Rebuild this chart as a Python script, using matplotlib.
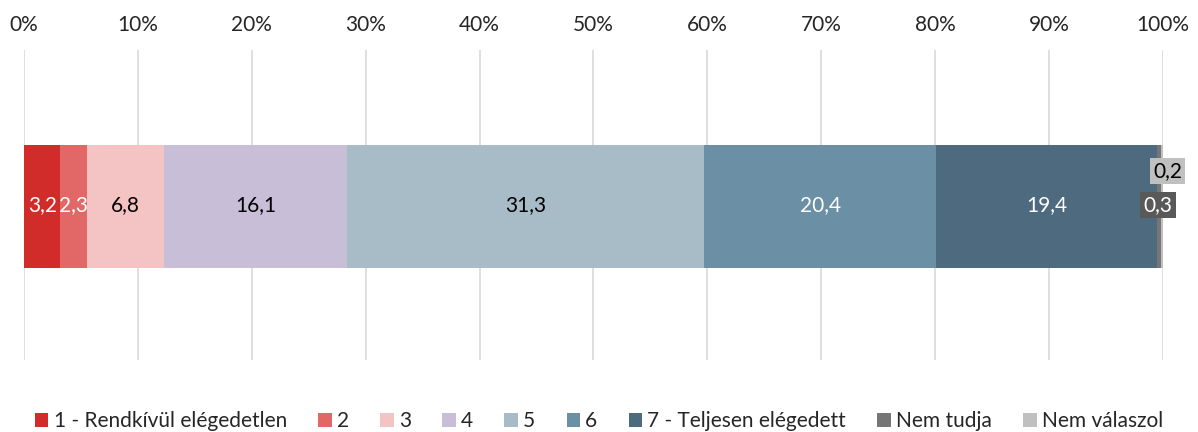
import numpy as np
import matplotlib.pyplot as plt

plt.rcParams['font.family'] = ['Lato', 'DejaVu Sans']

categories = ['1 - Rendkívül elégedetlen', '2', '3', '4', '5', '6',
              '7 - Teljesen elégedett', 'Nem tudja', 'Nem válaszol']
values = [3.2, 2.3, 6.8, 16.1, 31.3, 20.4, 19.4, 0.3, 0.2]
colors = ['#D12B2A', '#E26868', '#F4C3C3', '#C8BED7', '#A8BCC8',
          '#6B8FA4', '#4E6A7E', '#767676', '#C0C0C0']
label_colors = ['white', 'white', 'black', 'black', 'black',
                'white', 'white', 'white', 'black']
xticks = np.arange(0, 101, 10)

fig = plt.figure(figsize=(11.98, 4.32), dpi=100)
ax = fig.add_axes([0.020, 0.1667, 0.9508, 0.7176])

left = 0
for i, (cat, v) in enumerate(zip(categories, values)):
    ax.barh(-0.005, v, left=left, height=0.395, color=colors[i], label=cat, zorder=2)
    center = left + v / 2
    txt = f'{v:.1f}'.replace('.', ',')
    if v >= 1:
        ax.text(center, 0, txt, ha='center', va='center', fontsize=15,
                color=label_colors[i], zorder=3)
    elif cat == 'Nem tudja':
        ax.text(left + v / 2 - 0.1, 0, txt, ha='center', va='center', fontsize=15,
                color='white', zorder=4,
                bbox=dict(boxstyle='square,pad=0.15', fc='#595959', ec='none'))
    else:
        ax.text(left + v / 2 + 0.5, 0.11, txt, ha='center', va='center', fontsize=15,
                color='black', zorder=4,
                bbox=dict(boxstyle='square,pad=0.15', fc='#C0C0C0', ec='none'))
    left += v

ax.set_xlim(0, 100)
ax.set_ylim(-0.5, 0.5)
ax.set_xticks(xticks)
ax.set_xticklabels([f'{t}%' for t in xticks], fontsize=15, color='#262626')
ax.xaxis.tick_top()
ax.tick_params(axis='x', length=0, pad=11)
ax.set_yticks([])
ax.grid(axis='x', color='#D9D9D9', linewidth=1.2, zorder=0)
for s in ax.spines.values():
    s.set_visible(False)

fig.legend(loc='center', bbox_to_anchor=(0.5, 0.025), ncol=9,
           frameon=False, fontsize=15, handlelength=0.65, handleheight=0.65,
           handletextpad=0.25, columnspacing=1.5, labelcolor='#262626')

fig.savefig('out.png', dpi=100)
